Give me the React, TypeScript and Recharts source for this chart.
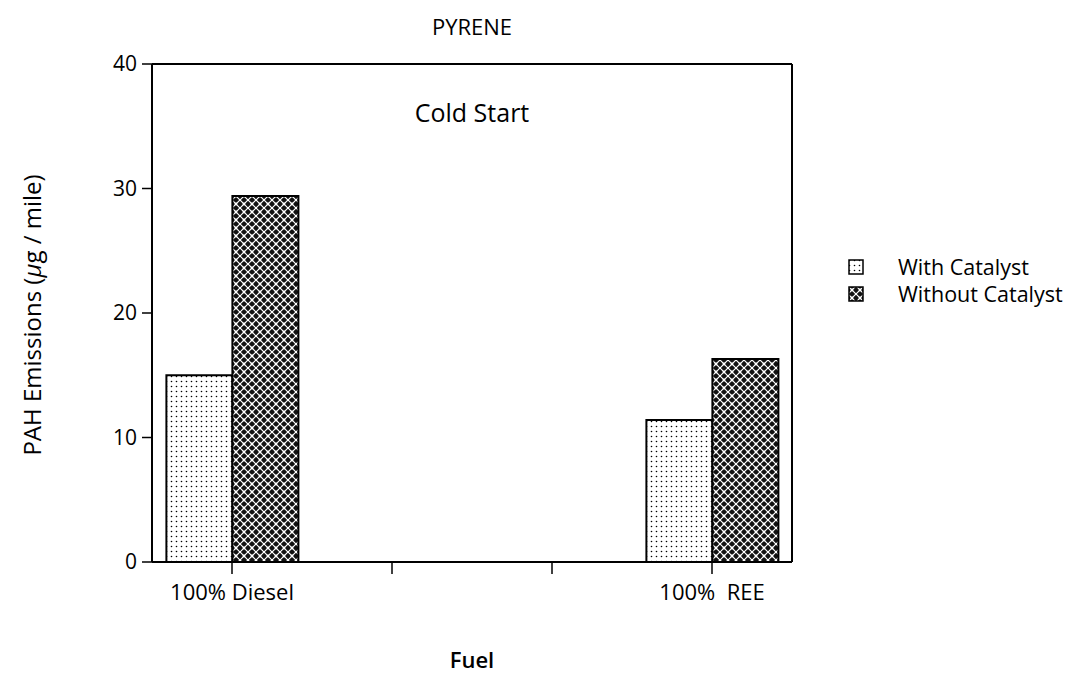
import React from 'react';
import { BarChart, Bar, XAxis, YAxis, ReferenceLine, CartesianGrid } from 'recharts';

const categories = ['100% Diesel', '', '', '100%\u00A0\u00A0REE'];
const withCatalyst = [15.0, null, null, 11.4];
const withoutCatalyst = [29.4, null, null, 16.3];
const yTicks = [0, 10, 20, 30, 40];
const seriesNames = ['With Catalyst', 'Without Catalyst'];

const data = categories.map((c, i) => ({
  fuel: c,
  withCat: withCatalyst[i],
  withoutCat: withoutCatalyst[i],
}));

const FONT = '"Open Sans", "Noto Sans", sans-serif';

const YLabel = (props: any) => {
  const vb = props.viewBox || {};
  const cx = 35;
  const cy = (vb.y ?? 64) + (vb.height ?? 498) / 2 + 2;
  return (
    <text
      x={cx}
      y={cy}
      transform={`rotate(-90, ${cx}, ${cy})`}
      textAnchor="middle"
      dominantBaseline="middle"
      fontSize={24}
      fontFamily={FONT}
      fill="#000"
    >
      PAH Emissions (<tspan fontStyle="italic">μ</tspan>g / mile)
    </text>
  );
};

const LegendBox = () => (
  <div style={{ position: 'absolute', left: 848, top: 253, fontFamily: FONT, fontSize: 21.5, color: '#000' }}>
    {seriesNames.map((n, i) => (
      <div key={n} style={{ display: 'flex', alignItems: 'center', height: 27, whiteSpace: 'nowrap' }}>
        <svg width={16} height={16} style={{ marginRight: 34 }}>
          <rect x={1} y={1} width={14} height={14} fill={i === 0 ? 'url(#dots)' : 'url(#cross)'} stroke="#000" strokeWidth={1.5} />
        </svg>
        <span>{n}</span>
      </div>
    ))}
  </div>
);

export default function App() {
  return (
    <div style={{ position: 'absolute', left: 0, top: 0, width: 1075, height: 682, background: '#fff' }}>
      <svg width={0} height={0} style={{ position: 'absolute' }}>
        <defs>
          <pattern id="dots" width={5} height={5} patternUnits="userSpaceOnUse">
            <rect width={5} height={5} fill="#fff" />
            <circle cx={1.5} cy={1.5} r={0.8} fill="#000" />
          </pattern>
          <pattern id="cross" width={8} height={8} patternUnits="userSpaceOnUse">
            <rect width={8} height={8} fill="#111" />
            <path d="M0,0 L8,8 M8,0 L0,8" stroke="#fff" strokeWidth={1.2} />
            <circle cx={4} cy={4} r={1.4} fill="#fff" />
            <circle cx={0} cy={0} r={1.1} fill="#fff" />
            <circle cx={8} cy={0} r={1.1} fill="#fff" />
            <circle cx={0} cy={8} r={1.1} fill="#fff" />
            <circle cx={8} cy={8} r={1.1} fill="#fff" />
          </pattern>
        </defs>
      </svg>
      <BarChart
        width={1075}
        height={682}
        data={data}
        margin={{ top: 64, right: 283, left: 0, bottom: 10 }}
        barCategoryGap="9%"
        barGap={0}
      >
        <CartesianGrid
          stroke="#000"
          strokeWidth={2}
          horizontalCoordinatesGenerator={({ offset }: any) => [offset.top]}
          verticalCoordinatesGenerator={({ offset }: any) => [offset.left + offset.width]}
        />
        <XAxis
          dataKey="fuel"
          height={110}
          tickSize={12}
          tickMargin={10}
          tick={{ fill: '#000', fontSize: 22, fontFamily: FONT }}
          tickLine={{ stroke: '#000', strokeWidth: 1.5 }}
          axisLine={{ stroke: '#000', strokeWidth: 2 }}
          label={{ value: 'Fuel', position: 'insideBottom', offset: 4, fill: '#000', fontSize: 22, fontWeight: 600, fontFamily: FONT }}
        />
        <YAxis
          width={152}
          domain={[0, 40]}
          ticks={yTicks}
          tickSize={10}
          tickMargin={5}
          tick={{ fill: '#000', fontSize: 21, fontFamily: FONT }}
          tickLine={{ stroke: '#000', strokeWidth: 1.5 }}
          axisLine={{ stroke: '#000', strokeWidth: 2 }}
          label={<YLabel />}
        />
        <ReferenceLine
          y={40}
          stroke="#000"
          strokeWidth={2}
          label={{ value: 'PYRENE', position: 'top', offset: 29, fill: '#000', fontSize: 22, fontFamily: FONT }}
        />
        <ReferenceLine
          y={40}
          strokeOpacity={0}
          label={{ value: 'Cold Start', position: 'bottom', offset: 40, fill: '#000', fontSize: 25, fontFamily: FONT }}
        />
        <Bar dataKey="withCat" name={seriesNames[0]} fill="url(#dots)" stroke="#000" strokeWidth={2} isAnimationActive={false} />
        <Bar dataKey="withoutCat" name={seriesNames[1]} fill="url(#cross)" stroke="#000" strokeWidth={2} isAnimationActive={false} />
      </BarChart>
      <LegendBox />
    </div>
  );
}
